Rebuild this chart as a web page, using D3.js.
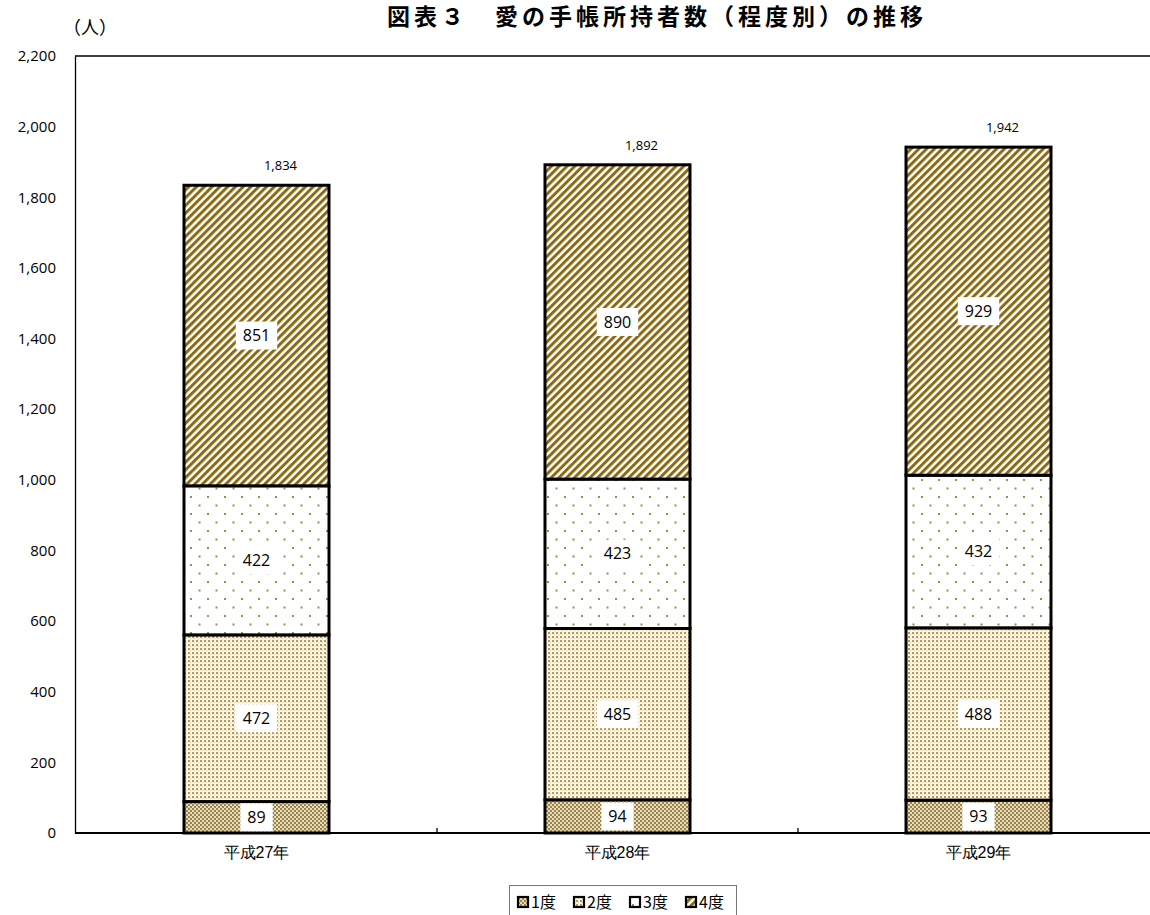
<!DOCTYPE html>
<html><head><meta charset="utf-8">
<script src="https://cdn.jsdelivr.net/npm/d3@7"></script>
<style>body{margin:0;background:#fff;} svg{display:block;font-family:"Noto Sans CJK JP","Noto Sans",sans-serif;}</style>
</head><body>
<svg id="c" width="1150" height="915"></svg>
<script>
const categories = ["平成27年","平成28年","平成29年"];
const seriesNames = ["1度","2度","3度","4度"];
const deg1 = [89, 94, 93];
const deg2 = [472, 485, 488];
const deg3 = [422, 423, 432];
const deg4 = [851, 890, 929];
const totals = [1834, 1892, 1942];
const yTicks = [0,200,400,600,800,1000,1200,1400,1600,1800,2000,2200];

(function(){
const svg = d3.select("#c");
const W = 1150;
const mLeft = 75, mTop = 56, mBottom = 833;
const olive = "#8a6a12";

const defs = svg.append("defs");
const p1 = defs.append("pattern").attr("id","p1").attr("patternUnits","userSpaceOnUse").attr("width",4).attr("height",4);
p1.append("rect").attr("width",4).attr("height",4).attr("fill","#e6dcc0");
p1.append("rect").attr("x",0).attr("y",0).attr("width",2).attr("height",2).attr("fill","#9c8447");
p1.append("rect").attr("x",2).attr("y",2).attr("width",2).attr("height",2).attr("fill","#9c8447");
const p2 = defs.append("pattern").attr("id","p2").attr("patternUnits","userSpaceOnUse").attr("width",4).attr("height",4);
p2.append("rect").attr("width",4).attr("height",4).attr("fill","#fbf6ea");
p2.append("rect").attr("x",0).attr("y",0).attr("width",2).attr("height",2).attr("fill","#b49a58");
p2.append("rect").attr("x",2).attr("y",2).attr("width",1).attr("height",1).attr("fill","#d8c8a0");
const p3 = defs.append("pattern").attr("id","p3").attr("patternUnits","userSpaceOnUse").attr("width",17).attr("height",17);
p3.append("rect").attr("width",17).attr("height",17).attr("fill","#fff");
p3.append("rect").attr("x",3).attr("y",3).attr("width",2).attr("height",2).attr("fill","#a68a45");
p3.append("rect").attr("x",11.5).attr("y",11.5).attr("width",2).attr("height",2).attr("fill","#a68a45");
const p4 = defs.append("pattern").attr("id","p4").attr("patternUnits","userSpaceOnUse").attr("width",5.5).attr("height",5.5).attr("patternTransform","rotate(45)");
p4.append("rect").attr("width",5.5).attr("height",5.5).attr("fill","#fff");
p4.append("rect").attr("x",0).attr("y",0).attr("width",3).attr("height",5.5).attr("fill",olive);

const fills = ["url(#p1)","url(#p2)","url(#p3)","url(#p4)"];

const xb = d3.scaleBand().domain(categories).range([76, 1159]);
const y = d3.scaleLinear().domain([0, 2200]).range([mBottom, mTop]);

svg.append("line").attr("x1",mLeft).attr("x2",W).attr("y1",mTop).attr("y2",mTop).attr("stroke","#000").attr("stroke-width",1.3);

const ya = svg.append("g").attr("transform",`translate(${mLeft},0)`)
  .call(d3.axisLeft(y).tickValues(yTicks).tickSize(0).tickPadding(19).tickFormat(d3.format(",")));
ya.select(".domain").attr("stroke","#000").attr("stroke-width",1.3);
ya.selectAll("text").attr("font-size",15).attr("fill","#000").attr("font-family","Open Sans, Noto Sans, sans-serif");

const rows = categories.map((c,i)=>({cat:c, "1度":deg1[i], "2度":deg2[i], "3度":deg3[i], "4度":deg4[i]}));
const stack = d3.stack().keys(seriesNames)(rows);

const bw = 145;
const g = svg.append("g");
stack.forEach((layer, li) => {
  g.selectAll(null).data(layer).enter().append("rect")
    .attr("x", d => xb(d.data.cat) + xb.bandwidth()/2 - bw/2)
    .attr("width", bw)
    .attr("y", d => y(d[1]))
    .attr("height", d => y(d[0]) - y(d[1]))
    .attr("fill", fills[li])
    .attr("stroke", "#000").attr("stroke-width", 3);
});

const xa = svg.append("g").attr("transform",`translate(0,${mBottom})`)
  .call(d3.axisBottom(xb).tickSize(0).tickPadding(14));
xa.select(".domain").remove();
svg.append("line").attr("x1",mLeft).attr("x2",W).attr("y1",mBottom).attr("y2",mBottom).attr("stroke","#000").attr("stroke-width",1.8);
[1,2].forEach(i=>{
  const xx = xb(categories[i]);
  svg.append("line").attr("x1",xx).attr("x2",xx).attr("y1",mBottom-5).attr("y2",mBottom).attr("stroke","#000").attr("stroke-width",1.3);
});
xa.selectAll("text").attr("font-size",16).attr("fill","#000");

stack.forEach((layer, li) => {
  layer.forEach(d => {
    const cx = xb(d.data.cat) + xb.bandwidth()/2;
    const cy = (y(d[0]) + y(d[1]))/2;
    const v = d[1]-d[0];
    const t = g.append("text").attr("x",cx).attr("y",cy).attr("text-anchor","middle").attr("dy","0.35em")
      .attr("font-size",16).attr("fill","#000").attr("font-family","Open Sans, Noto Sans, sans-serif").text(v);
    const bb = t.node().getBBox();
    g.insert("rect", () => t.node()).attr("x",bb.x-7).attr("y",cy-14).attr("width",bb.width+14).attr("height",28).attr("fill","#fff");
  });
});

totals.forEach((v,i)=>{
  svg.append("text").attr("x", xb(categories[i]) + xb.bandwidth()/2 + 24).attr("y", y(v) - 15)
    .attr("text-anchor","middle").attr("font-size",13).attr("fill","#000").attr("font-family","Open Sans, Noto Sans, sans-serif").text(d3.format(",")(v));
});

svg.append("text").attr("x",657).attr("y",25).attr("text-anchor","middle").attr("font-size",23).attr("font-weight","bold")
  .attr("letter-spacing",4).attr("fill","#000").text("図表３　愛の手帳所持者数（程度別）の推移");
svg.append("text").attr("x",63).attr("y",34).attr("font-size",18).attr("fill","#000").text("（人）");

const lg = svg.append("g");
lg.append("rect").attr("x",509.5).attr("y",885.5).attr("width",227).attr("height",40).attr("fill","#fff").attr("stroke","#777").attr("stroke-width",1);
const lx = [518, 574, 630, 686];
seriesNames.forEach((s,i)=>{
  lg.append("rect").attr("x",lx[i]).attr("y",897).attr("width",10).attr("height",10).attr("fill",fills[i]).attr("stroke","#000").attr("stroke-width",2.2);
  lg.append("text").attr("x",lx[i]+13).attr("y",908).attr("font-size",16).attr("fill","#000").text(s);
});
})();
</script>
</body></html>
